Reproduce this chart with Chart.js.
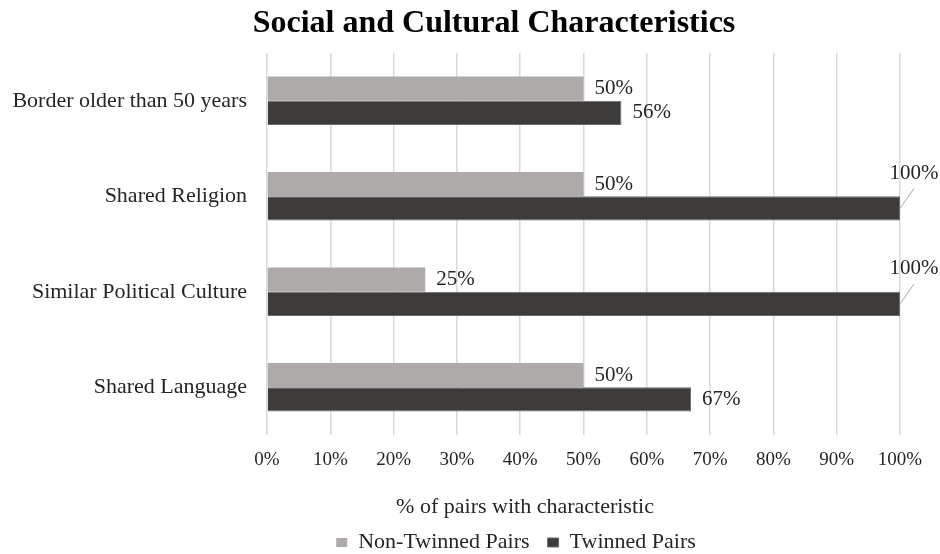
<!DOCTYPE html>
<html>
<head>
<meta charset="utf-8">
<script src="https://cdn.jsdelivr.net/npm/chart.js@4.4.0/dist/chart.umd.min.js"></script>
<style>
  html, body { margin: 0; padding: 0; background: #fff; }
  canvas { display: block; }
</style>
</head>
<body>
<canvas id="chart" width="940" height="554"></canvas>
<script>
// chart data
const categories = ['Border older than 50 years', 'Shared Religion', 'Similar Political Culture', 'Shared Language'];
const nonTwinned = [50, 50, 25, 50];
const twinned = [56, 100, 100, 67];
const xTicks = [0, 10, 20, 30, 40, 50, 60, 70, 80, 90, 100];
const chartTitle = 'Social and Cultural Characteristics';
const xTitle = '% of pairs with characteristic';

const serif = '"Liberation Serif", "Times New Roman", serif';
const textColor = '#262626';

// value labels at the end of each bar, 100% ones get a small leader line
const valueLabels = {
  id: 'valueLabels',
  afterDatasetsDraw(chart) {
    const ctx = chart.ctx;
    ctx.save();
    ctx.font = '21px ' + serif;
    ctx.fillStyle = textColor;
    ctx.textBaseline = 'middle';
    chart.data.datasets.forEach((ds, di) => {
      chart.getDatasetMeta(di).data.forEach((bar, i) => {
        const v = ds.data[i];
        const txt = v + '%';
        if (v >= 100) {
          ctx.strokeStyle = '#a6a6a6';
          ctx.lineWidth = 1;
          ctx.beginPath();
          ctx.moveTo(bar.x, bar.y);
          ctx.lineTo(bar.x + 14, bar.y - 20);
          ctx.stroke();
          ctx.textAlign = 'center';
          ctx.fillText(txt, bar.x + 14, bar.y - 35);
        } else {
          ctx.textAlign = 'left';
          ctx.fillText(txt, bar.x + 11, bar.y);
        }
      });
    });
    ctx.restore();
  }
};

// axis title sits a bit left of the plot centre, like the original
const axisTitle = {
  id: 'axisTitle',
  afterDraw(chart) {
    const ctx = chart.ctx;
    ctx.save();
    ctx.font = '22px ' + serif;
    ctx.fillStyle = textColor;
    ctx.textAlign = 'center';
    ctx.textBaseline = 'alphabetic';
    ctx.fillText(xTitle, 525, 513);
    ctx.restore();
  }
};

// nudge title and legend to where the original has them
const blockNudge = {
  id: 'blockNudge',
  afterLayout(chart) {
    const t = chart.titleBlock;
    t.left += 44;
    t.right += 44;
    const lg = chart.legend;
    lg.top += 9.5;
    lg.bottom += 9.5;
    lg.left += 66;
    lg.right += 66;
  }
};

new Chart(document.getElementById('chart'), {
  type: 'bar',
  data: {
    labels: categories,
    datasets: [
      {
        label: 'Non-Twinned Pairs',
        data: nonTwinned,
        backgroundColor: '#AEAAAA',
        borderColor: '#AEAAAA',
        borderWidth: 0,
      },
      {
        label: 'Twinned Pairs',
        data: twinned,
        backgroundColor: '#3D3A3A',
        borderColor: '#6d6a6a',
        borderWidth: 1,
      },
    ],
  },
  options: {
    indexAxis: 'y',
    responsive: false,
    animation: false,
    devicePixelRatio: 1,
    categoryPercentage: 0.51,
    barPercentage: 1,
    layout: { padding: { left: 0, right: 40, top: 0, bottom: 0 } },
    scales: {
      x: {
        min: 0,
        max: 100,
        afterBuildTicks: scale => { scale.ticks = xTicks.map(v => ({ value: v })); },
        afterFit: scale => { scale.height = 69; },
        ticks: {
          callback: v => v + '%',
          font: { family: serif, size: 19 },
          color: textColor,
          padding: 14,
          maxRotation: 0,
        },
        grid: { color: '#d9d9d9', lineWidth: 1.5, drawTicks: false },
        border: { display: false },
      },
      y: {
        afterFit: scale => { scale.width = 267; },
        ticks: {
          font: { family: serif, size: 22 },
          color: textColor,
          padding: 20,
        },
        grid: { display: false, drawTicks: false },
        border: { display: false },
      },
    },
    plugins: {
      title: {
        display: true,
        text: chartTitle,
        font: { family: serif, size: 32, weight: 'bold' },
        color: '#000',
        padding: { top: 5, bottom: 9.6 },
      },
      legend: {
        position: 'bottom',
        labels: {
          font: { family: serif, size: 22 },
          color: textColor,
          boxWidth: 11,
          boxHeight: 9,
          padding: 18,
        },
      },
      tooltip: { enabled: false },
    },
  },
  plugins: [valueLabels, axisTitle, blockNudge],
});
</script>
</body>
</html>
